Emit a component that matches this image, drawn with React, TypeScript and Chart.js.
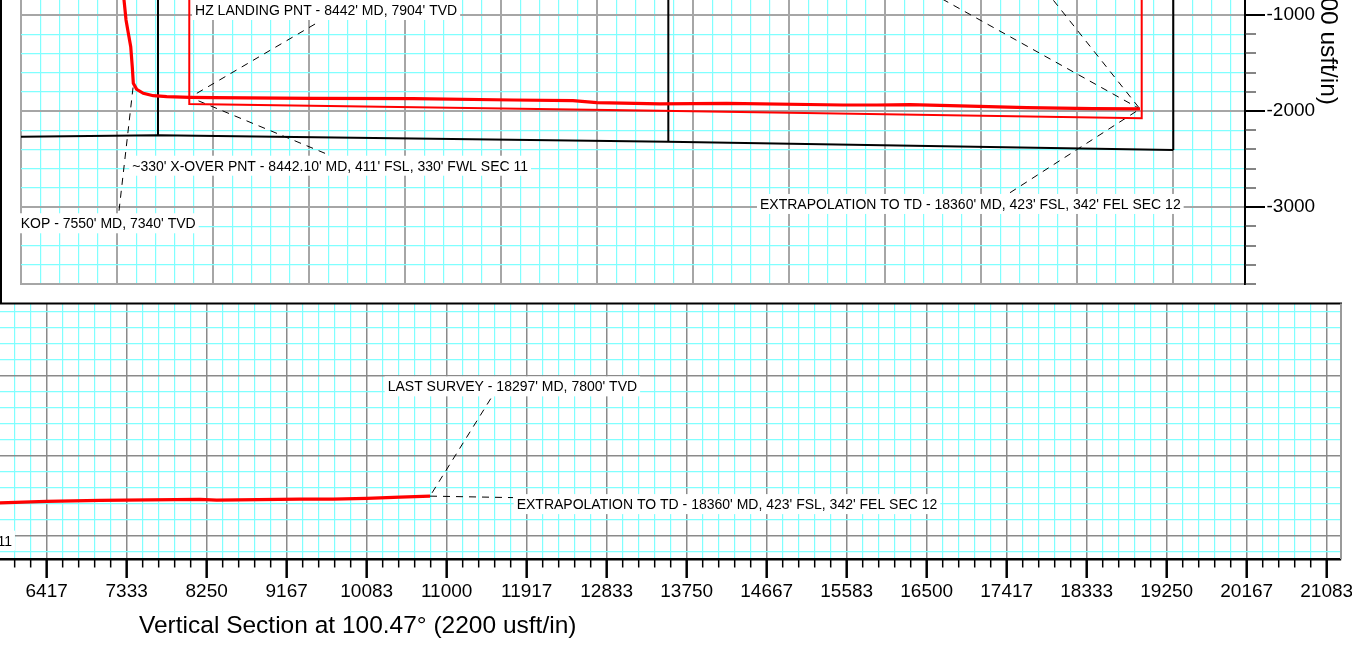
import React, { useEffect, useRef } from "react";
import { Chart, registerables } from "chart.js";

Chart.register(...registerables);

const FONT = "'Liberation Sans', Arimo, Arial, sans-serif";
Chart.defaults.font.family = FONT;
Chart.defaults.color = "#000";

const RED = "#ff0000";
const CYAN = "#80ffff";
const PLAN_GRAY = "#a6a6a6";
const VS_GRAY = "#8a8a8a";

// ================= PLAN VIEW (usft) =================
const planEastMin = -1000;
const planEastMax = 11750;
const planNorthMin = -3800;
const planNorthMax = -844;
const planMinorStep = 200;
const planMajorNorthTicks = [-1000, -2000, -3000];
const planAxisTitle = "South(-)/North(+) (2000 usft/in)";

const wellboreEast = [73, 73, 94, 118, 143, 159, 170, 205, 274, 378, 518, 760, 1003, 2042, 3083, 4125, 4750, 4997, 5656, 6351, 7563, 7914, 8260, 8781, 9476, 10167, 10656];
const wellboreNorth = [-636, -844, -1052, -1191, -1330, -1538, -1711, -1773, -1815, -1840, -1850, -1857, -1861, -1867, -1871, -1885, -1892, -1913, -1926, -1919, -1937, -1937, -1934, -1947, -1965, -1975, -1978];

const setbackEast = [753, 753, 5656, 10674, 10674];
const setbackNorth = [-636, -1926, -1996, -2075, -636];

const sec11WestEast = [427, 427];
const sec11WestNorth = [-636, -2252];
const sec11EastEast = [5743, 5743];
const sec11EastNorth = [-636, -2319];
const sec12EastEast = [11003, 11003];
const sec12EastNorth = [-636, -2405];
const southLineEast = [-1115, 427, 5743, 11003];
const southLineNorth = [-2268, -2252, -2319, -2405];

const planLeaderFromEast = [2063, 2167, 21, 9302, 8240, 9586];
const planLeaderFromNorth = [-1094, -2440, -3037, -2850, -636, -636];
const planLeaderToEast = [760, 760, 170, 10656, 10656, 10656];
const planLeaderToNorth = [-1857, -1857, -1729, -1978, -1978, -1978];

const planLabelText = [
  "HZ LANDING PNT - 8442' MD, 7904' TVD",
  "~330' X-OVER PNT - 8442.10' MD, 411' FSL, 330' FWL SEC 11",
  "KOP - 7550' MD, 7340' TVD",
  "EXTRAPOLATION TO TD - 18360' MD, 423' FSL, 342' FEL SEC 12",
];
const planLabelEast = [813, 159, -1003, 6698];
const planLabelNorth = [-1000, -2621, -3220, -3019];
const planLabelAlign = ["left", "left", "left", "left"];

// ================= VERTICAL SECTION (usft) =================
const vsMin = 5882;
const vsMax = 21247;
const tvdTop = 5588;
const tvdBottom = 8522;
const vsMajorTicks = [6416.667, 7333.333, 8250, 9166.667, 10083.333, 11000, 11916.667, 12833.333, 13750, 14666.667, 15583.333, 16500, 17416.667, 18333.333, 19250, 20166.667, 21083.333];
const vsTickLabels = ["6417", "7333", "8250", "9167", "10083", "11000", "11917", "12833", "13750", "14667", "15583", "16500", "17417", "18333", "19250", "20167", "21083"];
const tvdMajorTicks = [6416.667, 7333.333, 8250];
const vsAxisTitle = "Vertical Section at 100.47\u00b0 (2200 usft/in)";

const vsSection = [5767, 5882, 6417, 7028, 8174, 8365, 9316, 9698, 10084, 10465, 10809];
const vsTvd = [7880, 7877, 7860, 7849, 7838, 7846, 7834, 7834, 7826, 7811, 7800];

const vsLeaderFromX = [11505, 10809];
const vsLeaderFromY = [6680, 7800];
const vsLeaderToX = [10809, 11760];
const vsLeaderToY = [7800, 7817];

const vsLabelText = [
  "LAST SURVEY - 18297' MD, 7800' TVD",
  "EXTRAPOLATION TO TD - 18360' MD, 423' FSL, 342' FEL SEC 12",
  "~330' X-OVER PNT - 8442.10' MD, 411' FSL, 330' FWL SEC 11",
];
const vsLabelX = [10324, 11802, 6019];
const vsLabelY = [6597, 7949, 8369];
const vsLabelAlign = ["left", "left", "right"];

// ================= helpers =================
type Tick = { value: number; major: boolean };

function gridTicks(min: number, max: number, anchor: number, minor: number): Tick[] {
  const out: Tick[] = [];
  const kStart = Math.ceil((min - anchor) / minor - 1e-6);
  const kEnd = Math.floor((max - anchor) / minor + 1e-6);
  for (let k = kStart; k <= kEnd; k++) {
    out.push({ value: anchor + k * minor, major: ((k % 5) + 5) % 5 === 0 });
  }
  return out;
}

const pts = (xs: number[], ys: number[]) => xs.map((x, i) => ({ x, y: ys[i] }));

function lineDs(data: { x: number; y: number }[], color: string, width: number, dash: number[] = []) {
  return {
    data,
    showLine: true,
    borderColor: color,
    backgroundColor: color,
    borderWidth: width,
    borderDash: dash,
    pointRadius: 0,
    fill: false,
    tension: 0,
  };
}

function drawNotes(chart: any, texts: string[], xs: number[], ys: number[], aligns: string[]) {
  const { ctx } = chart;
  const sx = chart.scales.x;
  const sy = chart.scales.y;
  ctx.save();
  ctx.font = `14px ${FONT}`;
  ctx.textBaseline = "alphabetic";
  ctx.textAlign = "left";
  texts.forEach((t, i) => {
    const px = sx.getPixelForValue(xs[i]);
    const py = sy.getPixelForValue(ys[i]);
    const w = ctx.measureText(t).width;
    const left = aligns[i] === "right" ? px - w : px;
    ctx.fillStyle = "#ffffff";
    ctx.fillRect(left - 3, py - 15, w + 6, 20);
    ctx.fillStyle = "#000000";
    ctx.fillText(t, left, py);
  });
  ctx.restore();
}

function seg(ctx: CanvasRenderingContext2D, x1: number, y1: number, x2: number, y2: number) {
  ctx.beginPath();
  ctx.moveTo(x1, y1);
  ctx.lineTo(x2, y2);
  ctx.stroke();
}

const planDecor = {
  id: "planDecor",
  afterDatasetsDraw(chart: any) {
    drawNotes(chart, planLabelText, planLabelEast, planLabelNorth, planLabelAlign);
  },
  afterDraw(chart: any) {
    const { ctx, chartArea: a } = chart;
    const sy = chart.scales.y;
    ctx.save();
    ctx.strokeStyle = "#000";
    ctx.lineWidth = 2;
    seg(ctx, 1, 0, 1, chart.height);
    for (const t of sy.ticks as Tick[]) {
      const py = Math.round(sy.getPixelForValue(t.value));
      if (t.major) {
        ctx.strokeStyle = "#000";
        ctx.lineWidth = 2;
        seg(ctx, a.right, py, a.right + 20, py);
      } else {
        ctx.strokeStyle = "#333";
        ctx.lineWidth = 1.2;
        seg(ctx, a.right, py, a.right + 11, py);
      }
    }
    ctx.translate(a.right + 75.5, 105);
    ctx.rotate(Math.PI / 2);
    ctx.font = `24.5px ${FONT}`;
    ctx.fillStyle = "#000";
    ctx.textAlign = "right";
    ctx.textBaseline = "alphabetic";
    ctx.fillText(planAxisTitle, 0, 0);
    ctx.restore();
  },
};

const vsDecor = {
  id: "vsDecor",
  afterDatasetsDraw(chart: any) {
    drawNotes(chart, vsLabelText, vsLabelX, vsLabelY, vsLabelAlign);
  },
  afterDraw(chart: any) {
    const { ctx, chartArea: a } = chart;
    const sx = chart.scales.x;
    ctx.save();
    ctx.strokeStyle = "#000";
    ctx.lineWidth = 2;
    seg(ctx, a.left, a.top, a.right + 1, a.top);
    ctx.strokeStyle = "#9a9a9a";
    seg(ctx, a.right, a.top, a.right, a.bottom);
    ctx.strokeStyle = "#000";
    for (const t of sx.ticks as Tick[]) {
      const px = sx.getPixelForValue(t.value);
      if (t.major) {
        ctx.lineWidth = 2.5;
        seg(ctx, px, a.bottom, px, a.bottom + 19);
      } else {
        ctx.lineWidth = 1.5;
        seg(ctx, px, a.bottom, px, a.bottom + 8.5);
      }
    }
    ctx.font = `24.5px ${FONT}`;
    ctx.fillStyle = "#000";
    ctx.textAlign = "left";
    ctx.textBaseline = "alphabetic";
    ctx.fillText(vsAxisTitle, 139, a.bottom + 74.3);
    ctx.restore();
  },
};

function planConfig(): any {
  const leaders = planLeaderFromEast.map((_, i) =>
    lineDs(
      pts([planLeaderFromEast[i], planLeaderToEast[i]], [planLeaderFromNorth[i], planLeaderToNorth[i]]),
      "#000",
      1,
      [7, 6]
    )
  );
  return {
    type: "scatter",
    data: {
      datasets: [
        lineDs(pts(wellboreEast, wellboreNorth), RED, 3.2),
        lineDs(pts(setbackEast, setbackNorth), RED, 2),
        lineDs(pts(sec11WestEast, sec11WestNorth), "#000", 2),
        lineDs(pts(sec11EastEast, sec11EastNorth), "#000", 2),
        lineDs(pts(sec12EastEast, sec12EastNorth), "#000", 2),
        lineDs(pts(southLineEast, southLineNorth), "#000", 2),
        ...leaders,
      ],
    },
    options: {
      animation: false,
      responsive: false,
      maintainAspectRatio: false,
      events: [],
      layout: { padding: { left: 21, right: 0, top: 0, bottom: 0 } },
      plugins: { legend: { display: false }, tooltip: { enabled: false }, title: { display: false } },
      scales: {
        x: {
          type: "linear",
          position: "bottom",
          min: planEastMin,
          max: planEastMax,
          afterBuildTicks: (s: any) => {
            s.ticks = gridTicks(planEastMin, planEastMax, planEastMin, planMinorStep);
          },
          afterFit: (s: any) => {
            s.height = 19;
            s.paddingLeft = 0;
            s.paddingRight = 0;
          },
          ticks: { display: false, autoSkip: false, maxRotation: 0, minRotation: 0 },
          grid: {
            drawTicks: false,
            color: (c: any) => (c.tick && c.tick.major ? PLAN_GRAY : CYAN),
            lineWidth: (c: any) => (c.tick && c.tick.major ? 2 : 1.2),
          },
          border: { display: true, color: PLAN_GRAY, width: 2 },
        },
        y: {
          type: "linear",
          position: "right",
          min: planNorthMin,
          max: planNorthMax,
          afterBuildTicks: (s: any) => {
            s.ticks = gridTicks(planNorthMin, planNorthMax, planMajorNorthTicks[0], planMinorStep);
          },
          afterFit: (s: any) => {
            s.width = 107;
            s.paddingTop = 0;
            s.paddingBottom = 0;
          },
          ticks: {
            autoSkip: false,
            padding: 21.5,
            color: "#000",
            font: { size: 19, family: FONT },
            callback: (v: number, i: number, ticks: any[]) => {
              const k = planMajorNorthTicks.findIndex((m) => Math.abs(m - v) < 1);
              return ticks[i].major && k >= 0 ? String(planMajorNorthTicks[k]) : "";
            },
          },
          grid: {
            drawTicks: false,
            color: (c: any) => (c.tick && (c.tick.major || c.tick.value <= planNorthMin + 1) ? PLAN_GRAY : CYAN),
            lineWidth: (c: any) => (c.tick && (c.tick.major || c.tick.value <= planNorthMin + 1) ? 2 : 1.2),
          },
          border: { display: true, color: "#000", width: 2 },
        },
      },
    },
    plugins: [planDecor],
  };
}

function vsConfig(): any {
  const minor = (vsMajorTicks[1] - vsMajorTicks[0]) / 5;
  const leaders = vsLeaderFromX.map((_, i) =>
    lineDs(pts([vsLeaderFromX[i], vsLeaderToX[i]], [vsLeaderFromY[i], vsLeaderToY[i]]), "#000", 1, [7, 6])
  );
  return {
    type: "scatter",
    data: {
      datasets: [lineDs(pts(vsSection, vsTvd), RED, 3.2), ...leaders],
    },
    options: {
      animation: false,
      responsive: false,
      maintainAspectRatio: false,
      events: [],
      layout: { padding: { left: 0, right: 11, top: 7.5, bottom: 0 } },
      plugins: { legend: { display: false }, tooltip: { enabled: false }, title: { display: false } },
      scales: {
        x: {
          type: "linear",
          position: "bottom",
          min: vsMin,
          max: vsMax,
          afterBuildTicks: (s: any) => {
            s.ticks = gridTicks(vsMin, vsMax, vsMajorTicks[0], minor);
          },
          afterFit: (s: any) => {
            s.height = 86;
            s.paddingLeft = 0;
            s.paddingRight = 0;
          },
          ticks: {
            autoSkip: false,
            maxRotation: 0,
            minRotation: 0,
            padding: 21,
            color: "#000",
            font: { size: 19, family: FONT },
            callback: (v: number, i: number, ticks: any[]) => {
              const k = vsMajorTicks.findIndex((m) => Math.abs(m - v) < 1);
              return ticks[i].major && k >= 0 ? vsTickLabels[k] : "";
            },
          },
          grid: {
            drawTicks: false,
            color: (c: any) => (c.tick && c.tick.major ? VS_GRAY : CYAN),
            lineWidth: (c: any) => (c.tick && c.tick.major ? 1.5 : 1.2),
          },
          border: { display: true, color: "#000", width: 2.5 },
        },
        y: {
          type: "linear",
          position: "left",
          reverse: true,
          min: tvdTop,
          max: tvdBottom,
          afterBuildTicks: (s: any) => {
            s.ticks = gridTicks(tvdTop, tvdBottom, tvdMajorTicks[1], minor);
          },
          afterFit: (s: any) => {
            s.width = 0;
            s.paddingTop = 0;
            s.paddingBottom = 0;
          },
          ticks: { display: false, autoSkip: false },
          grid: {
            drawTicks: false,
            color: (c: any) => (c.tick && c.tick.major ? VS_GRAY : CYAN),
            lineWidth: (c: any) => (c.tick && c.tick.major ? 1.5 : 1.2),
          },
          border: { display: false },
        },
      },
    },
    plugins: [vsDecor],
  };
}

export default function App() {
  const planRef = useRef<HTMLCanvasElement>(null);
  const vsRef = useRef<HTMLCanvasElement>(null);

  useEffect(() => {
    const plan = new Chart(planRef.current as HTMLCanvasElement, planConfig());
    const vs = new Chart(vsRef.current as HTMLCanvasElement, vsConfig());
    return () => {
      plan.destroy();
      vs.destroy();
    };
  }, []);

  return (
    <div
      style={{
        position: "fixed",
        left: 0,
        top: 0,
        width: 1352,
        height: 645,
        background: "#fff",
        overflow: "hidden",
      }}
    >
      <canvas
        ref={vsRef}
        width={1352}
        height={349}
        style={{ position: "absolute", left: 0, top: 296, width: 1352, height: 349 }}
      />
      <canvas
        ref={planRef}
        width={1352}
        height={303}
        style={{ position: "absolute", left: 0, top: 0, width: 1352, height: 303, zIndex: 1 }}
      />
    </div>
  );
}
